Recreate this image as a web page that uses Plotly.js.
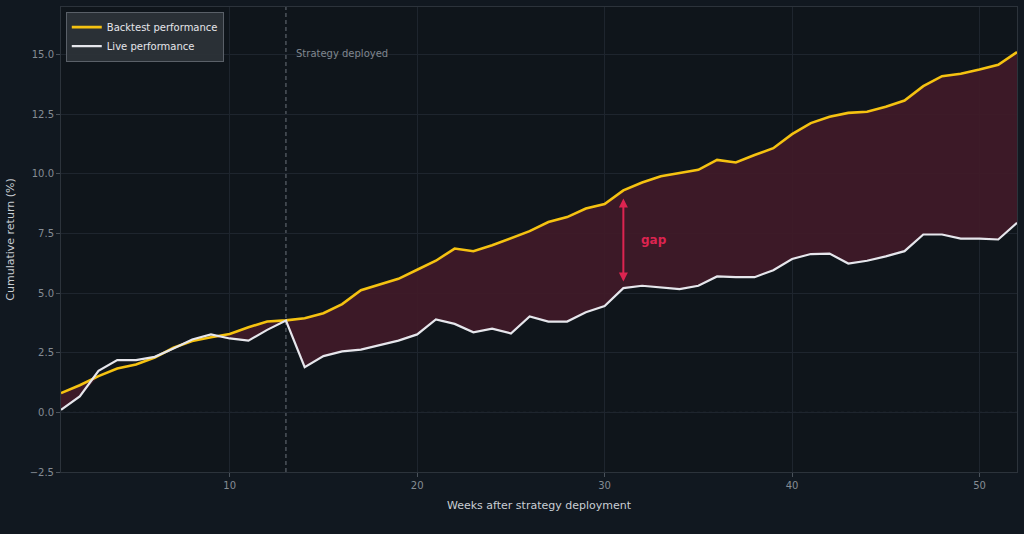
<!DOCTYPE html>
<html>
<head>
<meta charset="utf-8">
<script src="https://cdn.plot.ly/plotly-3.0.1.min.js"></script>
<style>
  html, body { margin: 0; padding: 0; background: #111820; }
  #chart { width: 1024px; height: 534px; }
</style>
</head>
<body>
<div id="chart"></div>
<script>
// weeks after deployment
const weeks = []
for (var i = 1; i <= 52; i++) weeks.push(i)

const backtest = [
    0.81, 1.14, 1.52, 1.84, 2.01, 2.30, 2.71, 2.99, 3.15, 3.29,
    3.57, 3.81, 3.86, 3.95, 4.16, 4.54, 5.12, 5.36, 5.60, 5.98,
    6.36, 6.87, 6.76, 7.01, 7.29, 7.60, 7.98, 8.19, 8.55, 8.74,
    9.31, 9.64, 9.90, 10.05, 10.17, 10.59, 10.48, 10.79, 11.08, 11.67,
    12.13, 12.40, 12.56, 12.61, 12.82, 13.08, 13.68, 14.10, 14.20, 14.38,
    14.58, 15.11
]

const live = [
    0.11, 0.67, 1.74, 2.19, 2.19, 2.33, 2.68, 3.06, 3.27, 3.10,
    3.01, 3.46, 3.85, 1.90, 2.36, 2.56, 2.63, 2.82, 3.01, 3.27,
    3.90, 3.71, 3.36, 3.51, 3.31, 4.02, 3.81, 3.81, 4.20, 4.46,
    5.21, 5.31, 5.25, 5.17, 5.31, 5.70, 5.67, 5.67, 5.96, 6.43,
    6.64, 6.66, 6.24, 6.36, 6.54, 6.76, 7.46, 7.46, 7.29, 7.29,
    7.25, 7.95
]

const deploy_week = 13
const gap_week = 31

const gold = '#f5c211'
const white = '#e6e6ec'
const crimson = '#dc2450'
const grid = '#1e252e'
const muted = '#858c94'

// lower edge of the shaded gap: only where live trails the backtest
const lower = live.map((v, i) => Math.min(v, backtest[i]))

const traces = [
    {
        x: weeks, y: lower, type: 'scatter', mode: 'lines',
        line: {width: 0, color: 'rgba(0,0,0,0)'},
        hoverinfo: 'skip', showlegend: false,
    },
    {
        x: weeks, y: backtest, type: 'scatter', mode: 'lines',
        line: {width: 0, color: 'rgba(0,0,0,0)'},
        fill: 'tonexty', fillcolor: 'rgba(64,26,40,0.92)',
        hoverinfo: 'skip', showlegend: false,
    },
    {
        x: weeks, y: backtest, type: 'scatter', mode: 'lines',
        name: 'Backtest performance',
        line: {color: gold, width: 2.6},
    },
    {
        x: weeks, y: live, type: 'scatter', mode: 'lines',
        name: 'Live performance',
        line: {color: white, width: 2.2},
    },
]

const axis_common = {
    showgrid: true,
    gridcolor: grid,
    gridwidth: 1,
    zeroline: false,
    showline: true,
    linecolor: '#2c333b',
    linewidth: 1,
    mirror: true,
    ticks: 'outside',
    ticklen: 4,
    tickcolor: '#4a525b',
    tickfont: {family: 'DejaVu Sans', size: 10, color: muted},
}

const layout = {
    width: 1024,
    height: 534,
    paper_bgcolor: '#111820',
    plot_bgcolor: '#0f151b',
    margin: {t: 7, r: 7, b: 62, l: 61},
    font: {family: 'DejaVu Sans', color: '#c9ced4'},
    showlegend: true,
    legend: {
        x: 0.005, y: 0.99, xanchor: 'left', yanchor: 'top',
        traceorder: 'normal',
        bgcolor: 'rgba(44,49,56,0.95)',
        bordercolor: '#5a6068', borderwidth: 1,
        font: {family: 'DejaVu Sans', size: 10, color: '#e6e6ea'},
        tracegroupgap: 0,
        itemwidth: 30,
    },
    xaxis: Object.assign({}, axis_common, {
        range: [1, 52],
        tickvals: [10, 20, 30, 40, 50],
        title: {text: 'Weeks after strategy deployment', standoff: 11,
            font: {family: 'DejaVu Sans', size: 11, color: '#c9ced4'}},
    }),
    yaxis: Object.assign({}, axis_common, {
        range: [-2.5, 17.0],
        tickvals: [-2.5, 0, 2.5, 5, 7.5, 10, 12.5, 15],
        ticktext: ['\u22122.5', '0.0', '2.5', '5.0', '7.5', '10.0', '12.5', '15.0'],
        title: {text: 'Cumulative return (%)', standoff: 12,
            font: {family: 'DejaVu Sans', size: 11, color: '#c9ced4'}},
    }),
    shapes: [
        {
            type: 'line', xref: 'x', yref: 'paper',
            x0: deploy_week, x1: deploy_week, y0: 0, y1: 1,
            line: {color: '#6b727b', width: 1, dash: '4px,3px'},
            layer: 'below',
        },
        {
            type: 'line', xref: 'paper', yref: 'y',
            x0: 0, x1: 1, y0: 0, y1: 0,
            line: {color: '#3a4149', width: 1, dash: 'dot'},
            layer: 'below',
        },
    ],
    annotations: [
        {
            x: deploy_week + 0.45, y: 15.05, xref: 'x', yref: 'y',
            text: 'Strategy deployed', showarrow: false,
            xanchor: 'left', yanchor: 'middle',
            font: {family: 'DejaVu Sans', size: 10, color: '#80878f'},
        },
        {
            // double-headed arrow marking the gap
            x: gap_week, y: live[gap_week - 1] + 0.28,
            ax: gap_week, ay: backtest[gap_week - 1] - 0.28,
            xref: 'x', yref: 'y', axref: 'x', ayref: 'y',
            text: '', showarrow: true,
            arrowhead: 2, startarrowhead: 2, arrowside: 'end+start',
            arrowsize: 0.9, arrowwidth: 2, arrowcolor: crimson,
        },
        {
            x: gap_week + 0.85, y: 7.25, xref: 'x', yref: 'y',
            text: '<b>gap</b>', showarrow: false,
            xanchor: 'left', yanchor: 'middle',
            font: {family: 'DejaVu Sans', size: 12, color: crimson},
        },
    ],
}

Plotly.newPlot('chart', traces, layout, {displayModeBar: false, staticPlot: true})
</script>
</body>
</html>
